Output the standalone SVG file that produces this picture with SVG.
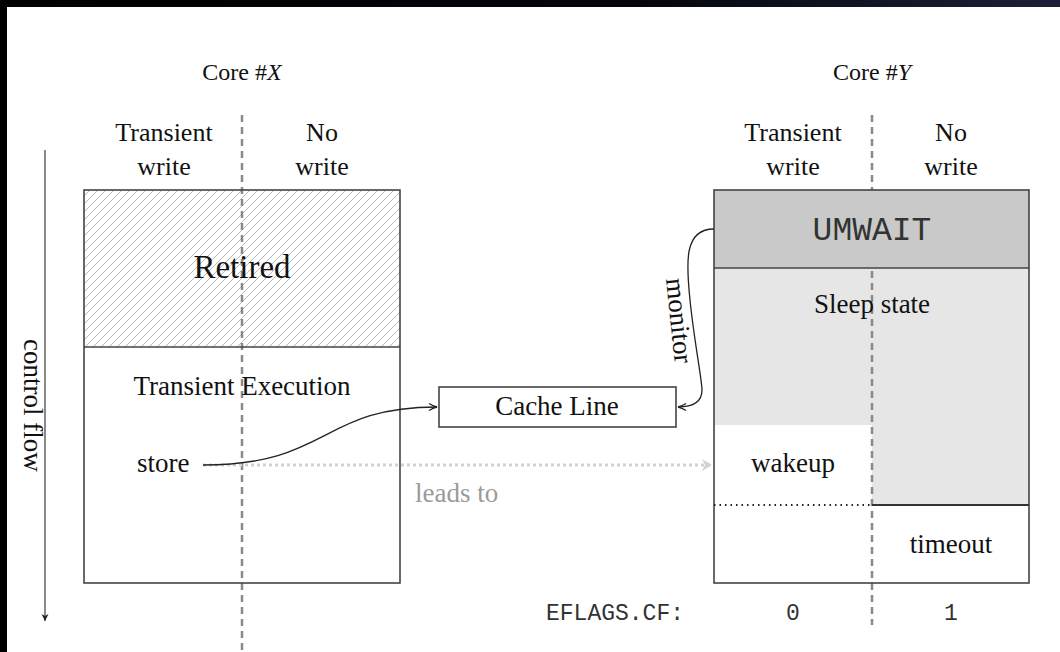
<svg xmlns="http://www.w3.org/2000/svg" width="1060" height="652" viewBox="0 0 1060 652">
  <defs>
    <pattern id="hatch" patternUnits="userSpaceOnUse" width="8" height="8">
      <path d="M-2,2 L2,-2 M0,8 L8,0 M6,10 L10,6" stroke="#b8b8b8" stroke-width="1"/>
    </pattern>
    <linearGradient id="topband" x1="0" y1="0" x2="1" y2="0">
      <stop offset="0" stop-color="#000"/>
      <stop offset="0.6" stop-color="#05060c"/>
      <stop offset="1" stop-color="#1b2038"/>
    </linearGradient>
    <marker id="arrBlack" viewBox="0 0 10 10" refX="9" refY="5" markerWidth="10" markerHeight="10" markerUnits="userSpaceOnUse" orient="auto">
      <path d="M1,1.5 Q5,4 9,5 Q5,6 1,8.5" fill="none" stroke="#222" stroke-width="1.3"/>
    </marker>
    <marker id="arrGray" viewBox="0 0 12 14" refX="11" refY="7" markerWidth="12" markerHeight="14" markerUnits="userSpaceOnUse" orient="auto">
      <path d="M1,1 L11,7 L1,13 L4,7 Z" fill="#d2d2d2"/>
    </marker>
    <marker id="arrFlow" viewBox="0 0 10 10" refX="5" refY="9" markerWidth="10" markerHeight="10" markerUnits="userSpaceOnUse" orient="0">
      <path d="M1.5,2 L5,9 L8.5,2 L5,4 Z" fill="#222"/>
    </marker>
    <style>
      .t { font-family: "Liberation Serif", "Times New Roman", serif; fill: #111; }
      .m { font-family: "Liberation Mono", "Courier New", monospace; fill: #333; }
      .box { fill: none; stroke: #444; stroke-width: 1.6; }
      .div { stroke: #8a8a8a; stroke-width: 2.5; stroke-dasharray: 7 5; fill: none; }
      .con { fill: none; stroke: #222; stroke-width: 1.3; }
    </style>
  </defs>

  <rect x="0" y="0" width="1060" height="652" fill="#fff"/>
  <rect x="0" y="0" width="1060" height="7" fill="url(#topband)"/>
  <rect x="0" y="0" width="7" height="652" fill="#000"/>

  <!-- headers -->
  <g id="coreX-header">
    <text class="t" x="242" y="80" font-size="24" text-anchor="middle">Core #<tspan font-style="italic">X</tspan></text>
    <text class="t" x="164" y="141" font-size="26" text-anchor="middle">Transient</text>
    <text class="t" x="164" y="175" font-size="26" text-anchor="middle">write</text>
    <text class="t" x="322" y="141" font-size="26" text-anchor="middle">No</text>
    <text class="t" x="322" y="175" font-size="26" text-anchor="middle">write</text>
  </g>
  <g id="coreY-header">
    <text class="t" x="872" y="80" font-size="24" text-anchor="middle">Core #<tspan font-style="italic">Y</tspan></text>
    <text class="t" x="793" y="141" font-size="26" text-anchor="middle">Transient</text>
    <text class="t" x="793" y="175" font-size="26" text-anchor="middle">write</text>
    <text class="t" x="951" y="141" font-size="26" text-anchor="middle">No</text>
    <text class="t" x="951" y="175" font-size="26" text-anchor="middle">write</text>
  </g>

  <!-- core X -->
  <g id="coreX">
    <rect x="84" y="190" width="316" height="157" fill="url(#hatch)"/>
    <rect x="84" y="347" width="316" height="236" fill="#fff"/>
    <line class="div" x1="242" y1="115" x2="242" y2="652"/>
    <rect class="box" x="84" y="190" width="316" height="393"/>
    <line x1="84" y1="347" x2="400" y2="347" stroke="#444" stroke-width="1.6"/>
    <text class="t" x="242" y="278" font-size="33" text-anchor="middle">Retired</text>
    <text class="t" x="242" y="395" font-size="27" text-anchor="middle">Transient Execution</text>
    <text id="store" class="t" x="137" y="472" font-size="27">store</text>
  </g>

  <!-- core Y -->
  <g id="coreY">
    <rect x="714" y="268" width="315" height="157" fill="#e6e6e6"/>
    <rect x="872" y="425" width="157" height="80" fill="#e6e6e6"/>
    <line class="div" x1="872" y1="115" x2="872" y2="625"/>
    <rect x="714" y="190" width="315" height="78" fill="#c9c9c9"/>
    <rect class="box" x="714" y="190" width="315" height="393"/>
    <line x1="714" y1="268" x2="1029" y2="268" stroke="#444" stroke-width="1.6"/>
    <line x1="714" y1="505" x2="872" y2="505" stroke="#222" stroke-width="2" stroke-dasharray="1.5 4"/>
    <line x1="872" y1="505" x2="1029" y2="505" stroke="#333" stroke-width="2"/>
    <text class="m" x="872" y="240" font-size="33" text-anchor="middle">UMWAIT</text>
    <text class="t" x="872" y="313" font-size="27" text-anchor="middle">Sleep state</text>
    <text class="t" x="793" y="472" font-size="27" text-anchor="middle">wakeup</text>
    <text class="t" x="951" y="553" font-size="27" text-anchor="middle">timeout</text>
  </g>

  <!-- cache line -->
  <g id="cacheline">
    <rect x="439" y="387" width="237" height="40" fill="#fff" stroke="#444" stroke-width="1.6"/>
    <text class="t" x="557" y="415" font-size="27" text-anchor="middle">Cache Line</text>
  </g>

  <!-- eflags -->
  <g id="eflags">
    <text class="m" x="546" y="620" font-size="23">EFLAGS.CF:</text>
    <text class="m" x="793" y="620" font-size="23" text-anchor="middle">0</text>
    <text class="m" x="951" y="620" font-size="23" text-anchor="middle">1</text>
  </g>

  <!-- control flow -->
  <g id="controlflow">
    <line x1="45" y1="150" x2="45" y2="621" stroke="#8a8a8a" stroke-width="2" marker-end="url(#arrFlow)"/>
    <text class="t" transform="translate(24,339) rotate(90)" font-size="27">control flow</text>
  </g>

  <!-- connectors -->
  <g id="connectors">
    <line x1="203" y1="465" x2="712" y2="465" stroke="#d2d2d2" stroke-width="3" stroke-dasharray="3 3" marker-end="url(#arrGray)"/>
    <text class="t" x="415" y="502" font-size="27" style="fill:#9a9a9a">leads to</text>
    <path class="con" d="M203,465 C330,465 320,407 437,407" marker-end="url(#arrBlack)"/>
    <path class="con" d="M714,229 C684,229 686,262 690,300 C694,340 702,380 702,390 C702,402 694,407 678,407" marker-end="url(#arrBlack)"/>
    <text class="t" transform="translate(666,279) rotate(84)" font-size="27">monitor</text>
  </g>
</svg>
